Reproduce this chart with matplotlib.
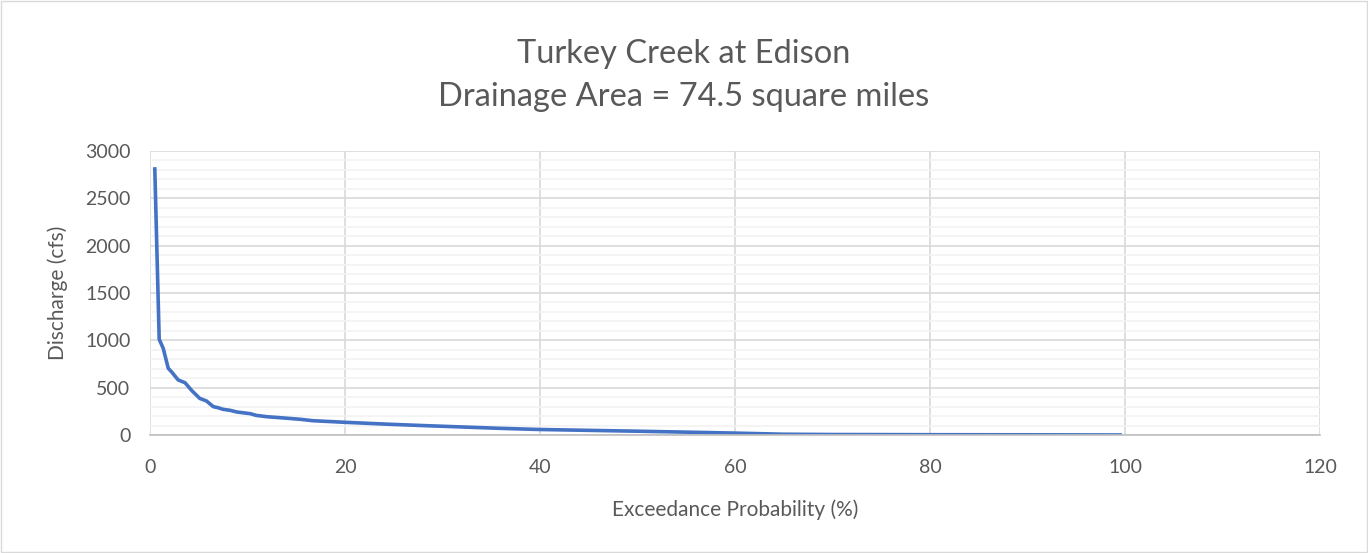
import numpy as np
import matplotlib.pyplot as plt
from matplotlib.ticker import MultipleLocator

# exceedance curve
exceedance = [0.5, 0.95, 1.36, 1.88, 2.2, 2.9, 3.6, 4.3, 5.1, 5.8, 6.5, 7.0, 7.5, 8.2, 8.9,
              10.3, 10.9, 12.0, 13.3, 15.4, 16.7, 20, 24.6, 28.4, 33, 36, 40, 50, 55, 60,
              65, 70, 80, 90, 99.5]
discharge = [2810, 1010, 916, 704, 669, 581, 552, 468, 387, 359, 299, 288, 271, 261, 243,
             225, 207, 193, 183, 166, 151, 134, 113, 98, 81, 70, 58, 40, 30, 20,
             8, 5, 3, 2, 0]

title = "Turkey Creek at Edison\nDrainage Area = 74.5 square miles"
xlabel = "Exceedance Probability (%)"
ylabel = "Discharge (cfs)"

plt.rcParams['font.family'] = ['Lato', 'DejaVu Sans']
text_color = "#595959"

fig = plt.figure(figsize=(13.68, 5.53), dpi=100)
ax = fig.add_axes([0.1096, 0.2134, 0.8554, 0.5136])

ax.plot(exceedance, discharge, color="#4472C4", lw=2.6, solid_joinstyle="round")

ax.set_xlim(0, 120)
ax.set_ylim(0, 3000)
ax.xaxis.set_major_locator(MultipleLocator(20))
ax.yaxis.set_major_locator(MultipleLocator(500))
ax.yaxis.set_minor_locator(MultipleLocator(100))
ax.grid(which="major", color="#D9D9D9", lw=1.2)
ax.grid(which="minor", axis="y", color="#F2F2F2", lw=1.2)
ax.set_axisbelow(True)

for side in ["top", "right", "left"]:
    ax.spines[side].set_visible(False)
ax.spines["bottom"].set_color("#BFBFBF")
ax.spines["bottom"].set_linewidth(1.2)

ax.tick_params(which="both", length=0, labelsize=14, labelcolor=text_color)
ax.tick_params(axis="x", pad=17)
ax.tick_params(axis="y", pad=14)
ax.set_xlabel(xlabel, fontsize=15, color=text_color, labelpad=17)
ax.set_ylabel(ylabel, fontsize=15, color=text_color, labelpad=12)

fig.text(0.5, 0.93, title, ha="center", va="top", fontsize=23.5, color=text_color,
         linespacing=1.55)

fig.patches.append(plt.Rectangle((0.001, 0.002), 0.998, 0.996, transform=fig.transFigure,
                                 fill=False, edgecolor="#D9D9D9", lw=1))

fig.savefig("out.png", dpi=100)
